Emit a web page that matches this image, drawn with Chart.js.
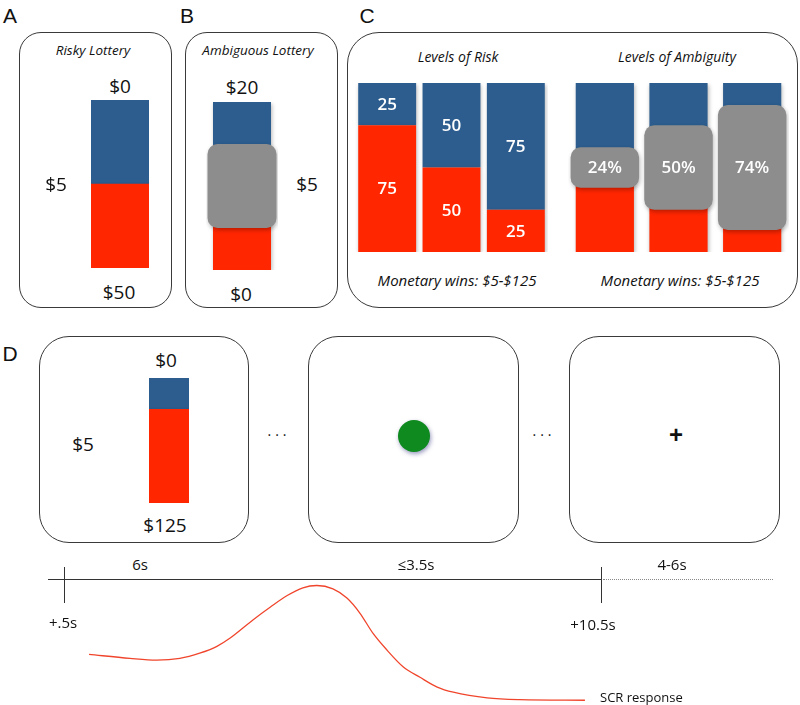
<!DOCTYPE html>
<html>
<head>
    <title>Risk and ambiguity lotteries</title>
    <script src="https://cdn.jsdelivr.net/npm/chart.js"></script>
    <style>
        body { margin: 0; background: #fff; }
        #fig {
            position: relative; width: 800px; height: 705px; overflow: hidden;
            font-family: "Open Sans", Lato, sans-serif; color: #111;
        }
        .box { position: absolute; border: 1.5px solid #3a3a3a; box-sizing: border-box; }
        .t { position: absolute; transform: translate(-50%, -50%); white-space: nowrap; line-height: 1; }
        .left { transform: translate(0, -50%); }
        .letter { font-family: "Liberation Sans", Arial, sans-serif; }
        .it { font-style: italic; }
        canvas { position: absolute; }
        .hline { position: absolute; height: 0; }
        .vline { position: absolute; width: 0; border-left: 1.5px solid #333; }
    </style>
</head>
<body>
<div id="fig">
    <div class="box" style="left:19px;top:32px;width:153px;height:276px;border-radius:22px"></div>
    <div class="box" style="left:185px;top:32px;width:153px;height:276px;border-radius:22px"></div>
    <div class="box" style="left:347px;top:32px;width:451px;height:276px;border-radius:32px"></div>
    <div class="box" style="left:39px;top:336px;width:210px;height:207px;border-radius:30px"></div>
    <div class="box" style="left:308px;top:336px;width:211px;height:207px;border-radius:30px"></div>
    <div class="box" style="left:569px;top:336px;width:211px;height:207px;border-radius:30px"></div>

    <canvas id="chartA" width="58" height="168" style="left:91px;top:100px"></canvas>
    <canvas id="chartB" width="72" height="168" style="left:206px;top:102px"></canvas>
    <canvas id="chartRisk" width="193" height="169" style="left:355px;top:83px"></canvas>
    <canvas id="chartAmb" width="221" height="169" style="left:568px;top:83px"></canvas>
    <canvas id="chartD" width="40" height="125" style="left:149px;top:378px"></canvas>
    <canvas id="chartDot" width="80" height="80" style="left:374px;top:396px"></canvas>
    <canvas id="chartScr" width="591" height="132" style="left:38px;top:574px"></canvas>

    <div class="hline" style="left:48px;top:579px;width:554px;border-top:1.5px solid #333"></div>
    <div class="hline" style="left:603px;top:579px;width:170px;border-top:1.5px dotted #888"></div>
    <div class="vline" style="left:64px;top:567px;height:36px"></div>
    <div class="vline" style="left:601px;top:567px;height:36px"></div>
</div>

<script>
    const RED = '#FF2600';
    const BLUE = '#2C5D8E';
    const GRAY = '#8D8D8D';

    // A: risky lottery, share of the bar (%)
    const riskyRed = [50];
    const riskyBlue = [50];

    // B: ambiguous lottery
    const ambigRed = [50];
    const ambigBlue = [50];
    const ambigLevel = [50];

    // C: levels of risk
    const riskCats = ['r25', 'r50', 'r75'];
    const riskRed = [75, 50, 25];
    const riskBlue = [25, 50, 75];

    // C: levels of ambiguity
    const ambCats = ['a24', 'a50', 'a74'];
    const ambLevels = [24, 50, 74];
    const ambRed = [50, 50, 50];
    const ambBlue = [50, 50, 50];

    // D: example trial lottery
    const trialRed = [75];
    const trialBlue = [25];

    // SCR trace: time (s) and amplitude (arbitrary units)
    const scrTime = [0.95, 1.71, 2.21, 2.64, 3.01, 3.33, 3.57, 4.00, 4.32, 4.63, 4.93, 5.19, 5.49,
                     5.75, 5.99, 6.24, 6.50, 6.80, 7.11, 7.43, 7.73, 8.36, 8.97, 10.18];
    const scrAmp = [0.40, 0.365, 0.35, 0.365, 0.41, 0.47, 0.54, 0.70, 0.81, 0.91, 0.98, 1.00, 0.97,
                    0.89, 0.76, 0.58, 0.435, 0.29, 0.20, 0.115, 0.07, 0.02, 0.005, 0.00];

    // texts: [text, x, y, size, class]
    const texts = [
        ['A', 10, 15, 21, 'letter'], ['B', 187, 15, 21, 'letter'],
        ['C', 367, 15, 21, 'letter'], ['D', 10, 353, 21, 'letter'],
        ['Risky Lottery', 93, 51, 13.5, 'it'],
        ['$0', 120, 86, 19, ''], ['$5', 56, 184, 19, ''], ['$50', 119, 292, 19, ''],
        ['Ambiguous Lottery', 258, 51, 13.5, 'it'],
        ['$20', 242, 87, 19, ''], ['$5', 307, 184, 19, ''], ['$0', 241, 294, 19, ''],
        ['Levels of Risk', 458, 57, 14, 'it'], ['Levels of Ambiguity', 677, 57, 14, 'it'],
        ['Monetary wins: $5-$125', 457, 280, 15, 'it'], ['Monetary wins: $5-$125', 680, 280, 15, 'it'],
        ['$0', 166, 360, 19, ''], ['$5', 83, 444, 19, ''], ['$125', 165, 525, 19, ''],
        ['...', 279, 431, 14, ''], ['...', 544, 431, 14, ''],
        ['6s', 140, 564, 15, ''], ['\u22643.5s', 416, 564, 15, ''], ['4-6s', 672, 564, 15, ''],
        ['+.5s', 63, 622, 15, ''], ['+10.5s', 593, 624, 15, '']
    ];

    const fig = document.getElementById('fig');
    texts.forEach(([s, x, y, size, cls]) => {
        const d = document.createElement('div');
        d.className = 't ' + cls;
        d.textContent = s;
        d.style.left = x + 'px';
        d.style.top = y + 'px';
        d.style.fontSize = size + 'px';
        if (s === '...') d.style.letterSpacing = '4px';
        fig.appendChild(d);
    });
    const cross = document.createElement('div');
    cross.className = 't';
    cross.textContent = '+';
    cross.style.cssText += 'left:676px;top:435px;font-size:24px;font-weight:bold;font-family:"Liberation Sans",Arial,sans-serif';
    fig.appendChild(cross);
    const scrLbl = document.createElement('div');
    scrLbl.className = 't left';
    scrLbl.textContent = 'SCR response';
    scrLbl.style.cssText += 'left:600px;top:697px;font-size:13px';
    fig.appendChild(scrLbl);

    // shadow under the marks, then white labels on top
    function shadeAndLabel(items, shadow) {
        return {
            id: 'shadeAndLabel',
            beforeDatasetsDraw(chart) {
                const c = chart.ctx;
                c.save();
                c.shadowColor = shadow || 'rgba(0,0,0,0.28)';
                c.shadowBlur = 4;
                c.shadowOffsetX = 1;
                c.shadowOffsetY = 2;
            },
            afterDatasetsDraw(chart) {
                const c = chart.ctx;
                c.restore();
                if (!items) return;
                c.save();
                c.fillStyle = '#fff';
                c.font = '600 17px "Open Sans"';
                c.textAlign = 'center';
                c.textBaseline = 'middle';
                items.forEach(it => {
                    chart.getDatasetMeta(it.ds).data.forEach((bar, i) => {
                        c.fillText(it.text[i], bar.x, (bar.y + bar.base) / 2 + 1);
                    });
                });
                c.restore();
            }
        };
    }

    function lottery(id, labels, red, blue, occ, barW, occW, items) {
        const datasets = [];
        if (occ) {
            datasets.push({
                data: occ.map(a => [50 - a / 2, 50 + a / 2]),
                backgroundColor: GRAY, borderRadius: 10, borderSkipped: false,
                barPercentage: occW, categoryPercentage: 1, grouped: false
            });
        }
        datasets.push({
            data: red.map(v => [0, v]),
            backgroundColor: RED, barPercentage: barW, categoryPercentage: 1, grouped: false
        });
        datasets.push({
            data: red.map((v, i) => [v, v + blue[i]]),
            backgroundColor: BLUE, barPercentage: barW, categoryPercentage: 1, grouped: false
        });
        new Chart(document.getElementById(id), {
            type: 'bar',
            data: { labels: labels, datasets: datasets },
            options: {
                responsive: false, animation: false, events: [],
                layout: { padding: 0 },
                plugins: { legend: { display: false }, tooltip: { enabled: false } },
                scales: {
                    x: { display: false },
                    y: { display: false, min: 0, max: 100 }
                }
            },
            plugins: [shadeAndLabel(items)]
        });
    }

    lottery('chartA', ['A'], riskyRed, riskyBlue, null, 1, 1, null);
    lottery('chartB', ['B'], ambigRed, ambigBlue, ambigLevel, 58 / 72, 69 / 72, null);
    lottery('chartRisk', riskCats, riskRed, riskBlue, null, 0.9, 0.9, [
        { ds: 0, text: riskRed.map(String) },
        { ds: 1, text: riskBlue.map(String) }
    ]);
    lottery('chartAmb', ambCats, ambRed, ambBlue, ambLevels, 0.79, 0.93, [
        { ds: 0, text: ambLevels.map(a => a + '%') }
    ]);
    lottery('chartD', ['D'], trialRed, trialBlue, null, 1, 1, null);

    // green go-signal in the middle screen
    new Chart(document.getElementById('chartDot'), {
        type: 'scatter',
        data: { datasets: [{ data: [{ x: 0, y: 0 }], pointRadius: 16, backgroundColor: '#0F8A1F', borderWidth: 0 }] },
        options: {
            responsive: false, animation: false, events: [],
            layout: { padding: 0 },
            plugins: { legend: { display: false }, tooltip: { enabled: false } },
            scales: {
                x: { display: false, min: -1, max: 1 },
                y: { display: false, min: -1, max: 1 }
            }
        },
        plugins: [shadeAndLabel(null, 'rgba(70,70,140,0.55)')]
    });

    // skin conductance response
    new Chart(document.getElementById('chartScr'), {
        type: 'line',
        data: {
            datasets: [{
                data: scrTime.map((t, i) => ({ x: t, y: scrAmp[i] })),
                borderColor: '#F0452C', borderWidth: 1.3, pointRadius: 0,
                cubicInterpolationMode: 'monotone', fill: false, clip: false
            }]
        },
        options: {
            responsive: false, animation: false, events: [],
            layout: { padding: 0 },
            plugins: { legend: { display: false }, tooltip: { enabled: false } },
            scales: {
                x: { type: 'linear', display: false, min: 0, max: 11 },
                y: { display: false, min: -0.05, max: 1.1 }
            }
        }
    });
</script>
</body>
</html>
